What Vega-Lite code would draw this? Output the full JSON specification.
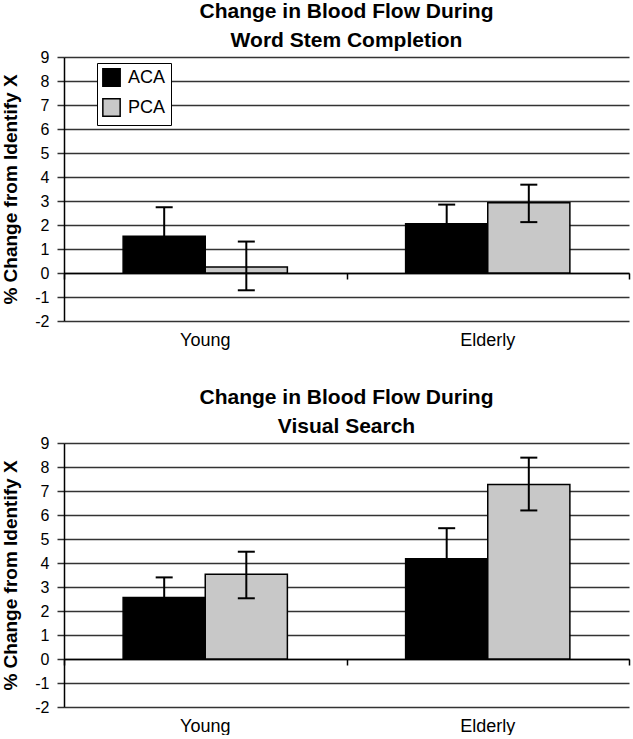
{
  "$schema": "https://vega.github.io/schema/vega-lite/v6.json",
  "padding": {"left": 1, "top": 1, "right": 4, "bottom": 0},
  "config": {
    "font": "Liberation Sans",
    "view": {"stroke": null},
    "axis": {"labelColor": "black", "titleColor": "black"},
    "axisY": {"tickCount": 11, "grid": true, "gridColor": "#333333", "gridWidth": 1.5, "domainColor": "black", "domainWidth": 1.5, "tickColor": "#333333", "tickSize": 7, "tickWidth": 1.5, "labelFontSize": 16, "labelPadding": 8, "labelExpr": "datum.value", "titleFontSize": 19, "titleFontWeight": "bold", "titlePadding": 14}
  },
  "datasets": {
    "bloodflow": [
      {"panel": "Word", "group": "Young", "series": "ACA", "value": 1.53, "lo": 0.32, "hi": 2.74},
      {"panel": "Word", "group": "Young", "series": "PCA", "value": 0.25, "lo": -0.72, "hi": 1.31},
      {"panel": "Word", "group": "Elderly", "series": "ACA", "value": 2.05, "lo": 1.25, "hi": 2.85},
      {"panel": "Word", "group": "Elderly", "series": "PCA", "value": 2.93, "lo": 2.12, "hi": 3.68},
      {"panel": "Visual", "group": "Young", "series": "ACA", "value": 2.56, "lo": 1.72, "hi": 3.4},
      {"panel": "Visual", "group": "Young", "series": "PCA", "value": 3.53, "lo": 2.53, "hi": 4.47},
      {"panel": "Visual", "group": "Elderly", "series": "ACA", "value": 4.18, "lo": 2.91, "hi": 5.45},
      {"panel": "Visual", "group": "Elderly", "series": "PCA", "value": 7.27, "lo": 6.19, "hi": 8.39}
    ]
  },
  "spacing": 38,
  "vconcat": [
    {
      "data": {"name": "bloodflow"},
      "transform": [{"filter": "datum.panel == 'Word'"}],
      "title": {"text": ["Change in Blood Flow During", "Word Stem Completion"], "fontSize": 21, "fontWeight": "bold", "anchor": "middle", "frame": "group", "lineHeight": 29, "offset": -2, "color": "black"},
      "width": 565,
      "height": 264,
      "resolve": {"axis": {"x": "independent"}},
      "layer": [
        {
          "mark": {"type": "bar", "stroke": "black", "strokeWidth": 1.5},
          "encoding": {
            "x": {"field": "group", "type": "nominal", "sort": ["Young", "Elderly"], "scale": {"paddingInner": 0, "paddingOuter": 0}, "axis": {"title": null, "orient": "bottom", "labelAngle": 0, "domain": false, "ticks": false, "grid": false, "labelPadding": 10, "labelFontSize": 18}},
            "xOffset": {"field": "series", "type": "nominal", "sort": ["ACA", "PCA"], "scale": {"paddingInner": 0, "paddingOuter": 0.72}},
            "y": {"field": "value", "type": "quantitative", "title": "% Change from Identify X", "scale": {"domain": [-2, 9], "nice": false}},
            "fill": {"field": "series", "type": "nominal", "scale": {"domain": ["ACA", "PCA"], "range": ["#000000", "#c8c8c8"]}, "legend": {"title": null, "orient": "none", "legendX": 33, "legendY": 6, "strokeColor": "black", "fillColor": "white", "padding": 5, "symbolType": "square", "symbolSize": 300, "symbolStrokeColor": "black", "symbolStrokeWidth": 1.5, "symbolOpacity": 1, "labelFontSize": 18, "labelColor": "black", "rowPadding": 5, "labelOffset": 7}}
          }
        },
        {
          "mark": {"type": "rule", "strokeWidth": 2, "color": "black"},
          "encoding": {
            "x": {"field": "group", "type": "nominal", "sort": ["Young", "Elderly"], "axis": {"title": null, "orient": "bottom", "labels": false, "grid": false, "domain": true, "domainColor": "black", "domainWidth": 1.5, "ticks": true, "tickBand": "extent", "tickSize": 6, "tickColor": "black", "tickWidth": 1.5, "offset": -48}},
            "xOffset": {"field": "series", "type": "nominal", "sort": ["ACA", "PCA"]},
            "y": {"field": "lo", "type": "quantitative", "title": "% Change from Identify X"},
            "y2": {"field": "hi"}
          }
        },
        {
          "mark": {"type": "tick", "thickness": 2, "size": 17, "color": "black", "opacity": 1},
          "encoding": {
            "x": {"field": "group", "type": "nominal", "sort": ["Young", "Elderly"], "axis": null},
            "xOffset": {"field": "series", "type": "nominal", "sort": ["ACA", "PCA"]},
            "y": {"field": "hi", "type": "quantitative", "title": "% Change from Identify X"}
          }
        },
        {
          "mark": {"type": "tick", "thickness": 2, "size": 17, "color": "black", "opacity": 1},
          "encoding": {
            "x": {"field": "group", "type": "nominal", "sort": ["Young", "Elderly"], "axis": null},
            "xOffset": {"field": "series", "type": "nominal", "sort": ["ACA", "PCA"]},
            "y": {"field": "lo", "type": "quantitative", "title": "% Change from Identify X"}
          }
        }
      ]
    },
    {
      "data": {"name": "bloodflow"},
      "transform": [{"filter": "datum.panel == 'Visual'"}],
      "title": {"text": ["Change in Blood Flow During", "Visual Search"], "fontSize": 21, "fontWeight": "bold", "anchor": "middle", "frame": "group", "lineHeight": 29, "offset": -2, "color": "black"},
      "width": 565,
      "height": 264,
      "resolve": {"axis": {"x": "independent"}},
      "layer": [
        {
          "mark": {"type": "bar", "stroke": "black", "strokeWidth": 1.5},
          "encoding": {
            "x": {"field": "group", "type": "nominal", "sort": ["Young", "Elderly"], "scale": {"paddingInner": 0, "paddingOuter": 0}, "axis": {"title": null, "orient": "bottom", "labelAngle": 0, "domain": false, "ticks": false, "grid": false, "labelPadding": 10, "labelFontSize": 18}},
            "xOffset": {"field": "series", "type": "nominal", "sort": ["ACA", "PCA"], "scale": {"paddingInner": 0, "paddingOuter": 0.72}},
            "y": {"field": "value", "type": "quantitative", "title": "% Change from Identify X", "scale": {"domain": [-2, 9], "nice": false}},
            "fill": {"field": "series", "type": "nominal", "scale": {"domain": ["ACA", "PCA"], "range": ["#000000", "#c8c8c8"]}, "legend": {"title": null, "orient": "none", "legendX": 33, "legendY": 6, "strokeColor": "black", "fillColor": "white", "padding": 5, "symbolType": "square", "symbolSize": 300, "symbolStrokeColor": "black", "symbolStrokeWidth": 1.5, "symbolOpacity": 1, "labelFontSize": 18, "labelColor": "black", "rowPadding": 5, "labelOffset": 7}}
          }
        },
        {
          "mark": {"type": "rule", "strokeWidth": 2, "color": "black"},
          "encoding": {
            "x": {"field": "group", "type": "nominal", "sort": ["Young", "Elderly"], "axis": {"title": null, "orient": "bottom", "labels": false, "grid": false, "domain": true, "domainColor": "black", "domainWidth": 1.5, "ticks": true, "tickBand": "extent", "tickSize": 6, "tickColor": "black", "tickWidth": 1.5, "offset": -48}},
            "xOffset": {"field": "series", "type": "nominal", "sort": ["ACA", "PCA"]},
            "y": {"field": "lo", "type": "quantitative", "title": "% Change from Identify X"},
            "y2": {"field": "hi"}
          }
        },
        {
          "mark": {"type": "tick", "thickness": 2, "size": 17, "color": "black", "opacity": 1},
          "encoding": {
            "x": {"field": "group", "type": "nominal", "sort": ["Young", "Elderly"], "axis": null},
            "xOffset": {"field": "series", "type": "nominal", "sort": ["ACA", "PCA"]},
            "y": {"field": "hi", "type": "quantitative", "title": "% Change from Identify X"}
          }
        },
        {
          "mark": {"type": "tick", "thickness": 2, "size": 17, "color": "black", "opacity": 1},
          "encoding": {
            "x": {"field": "group", "type": "nominal", "sort": ["Young", "Elderly"], "axis": null},
            "xOffset": {"field": "series", "type": "nominal", "sort": ["ACA", "PCA"]},
            "y": {"field": "lo", "type": "quantitative", "title": "% Change from Identify X"}
          }
        }
      ]
    }
  ]
}
